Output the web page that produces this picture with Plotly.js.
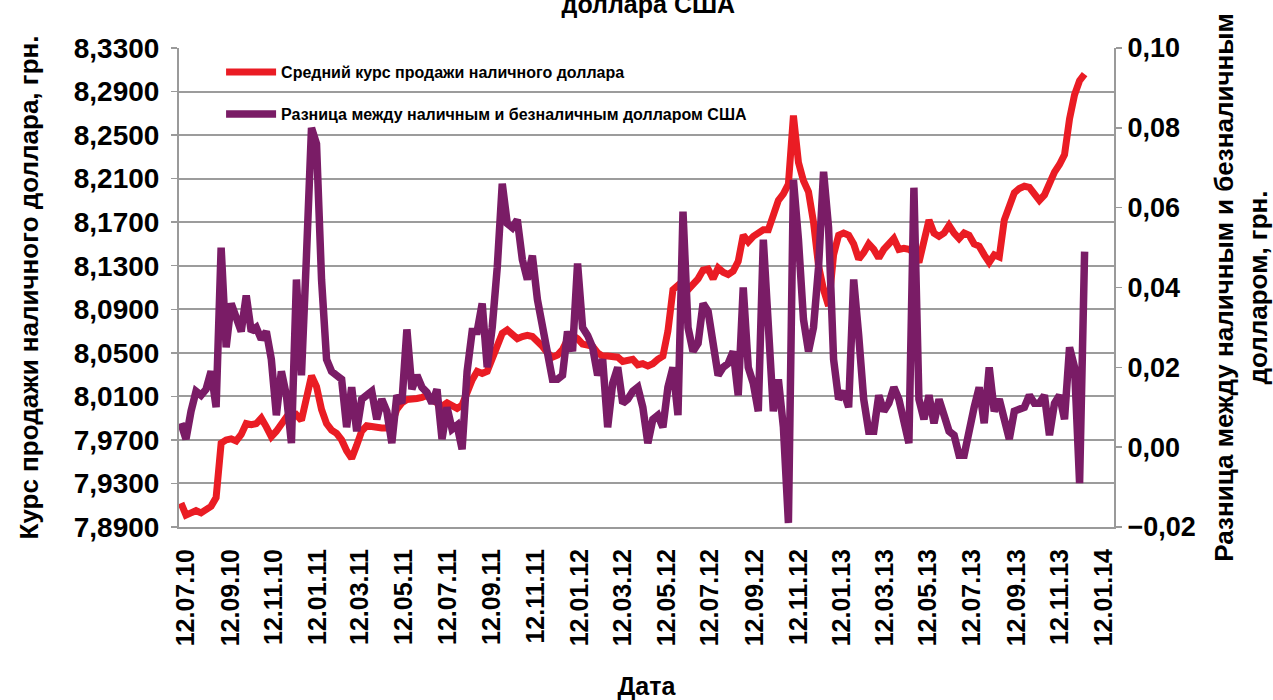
<!DOCTYPE html>
<html>
<head>
<meta charset="utf-8">
<script src="https://cdn.plot.ly/plotly-3.0.1.min.js"></script>
<style>
  html, body { margin: 0; padding: 0; background: #ffffff; }
  #chart { width: 1273px; height: 700px; }
</style>
</head>
<body>
<div id="chart"></div>
<script>
const firstWeek = '2010-07-05';
const weekCount = 181;

const cashRate = [
  7.912, 7.901, 7.903, 7.905, 7.903, 7.906, 7.909, 7.917, 7.967, 7.970,
  7.971, 7.969, 7.975, 7.985, 7.984, 7.985, 7.990, 7.982, 7.973, 7.978,
  7.985, 7.991, 7.990, 7.993, 7.988, 8.010, 8.029, 8.019, 7.998, 7.985,
  7.979, 7.976, 7.970, 7.960, 7.953, 7.965, 7.978, 7.983, 7.982, 7.982,
  7.981, 7.981, 7.985, 7.998, 8.004, 8.007, 8.007, 8.008, 8.009, 8.011,
  8.007, 8.004, 8.001, 8.004, 8.002, 7.999, 8.002, 8.014, 8.025, 8.033,
  8.031, 8.033, 8.045, 8.058, 8.068, 8.071, 8.066, 8.063, 8.065, 8.066,
  8.065, 8.061, 8.056, 8.050, 8.046, 8.048, 8.053, 8.062, 8.066, 8.063,
  8.058, 8.057, 8.056, 8.050, 8.047, 8.047, 8.047, 8.046, 8.042, 8.043,
  8.044, 8.039, 8.040, 8.038, 8.040, 8.044, 8.047, 8.070, 8.108, 8.112,
  8.108, 8.108, 8.112, 8.118, 8.126, 8.127, 8.118, 8.128, 8.124, 8.122,
  8.125, 8.134, 8.158, 8.152, 8.157, 8.160, 8.163, 8.163, 8.175, 8.190,
  8.196, 8.205, 8.268, 8.225, 8.208, 8.198, 8.170, 8.130, 8.108, 8.093,
  8.140, 8.158, 8.160, 8.158, 8.150, 8.136, 8.142, 8.150, 8.145, 8.137,
  8.145, 8.150, 8.155, 8.145, 8.146, 8.145, 8.142, 8.133, 8.155, 8.172,
  8.160, 8.157, 8.160, 8.167, 8.160, 8.155, 8.160, 8.158, 8.150, 8.148,
  8.140, 8.133, 8.140, 8.138, 8.172, 8.184, 8.197, 8.201, 8.203, 8.202,
  8.196, 8.190, 8.195, 8.206, 8.216, 8.223, 8.232, 8.265, 8.287, 8.300,
  8.306
];

const cashNonCashGap = [
  0.006, 0.002, 0.009, 0.014, 0.013, 0.0145, 0.019, 0.010, 0.050, 0.025,
  0.036, 0.032, 0.029, 0.038, 0.029, 0.030, 0.027, 0.029, 0.022, 0.008,
  0.019, 0.013, 0.001, 0.042, 0.018, 0.048, 0.080, 0.076, 0.042, 0.022,
  0.019, 0.018, 0.017, 0.005, 0.015, 0.004, 0.012, 0.013, 0.014, 0.007,
  0.012, 0.009, 0.001, 0.013, 0.011, 0.0295, 0.0145, 0.018, 0.015, 0.0137,
  0.011, 0.0145, 0.002, 0.010, 0.0045, 0.0055, -0.0005, 0.019, 0.029, 0.029,
  0.036, 0.020, 0.030, 0.045, 0.066, 0.056, 0.055, 0.057, 0.047, 0.042,
  0.048, 0.037, 0.030, 0.025, 0.017, 0.017, 0.018, 0.029, 0.024, 0.046,
  0.030, 0.028, 0.025, 0.018, 0.022, 0.005, 0.016, 0.020, 0.011, 0.012,
  0.014, 0.015, 0.010, 0.001, 0.007, 0.008, 0.005, 0.015, 0.020, 0.008,
  0.059, 0.030, 0.024, 0.026, 0.036, 0.034, 0.025, 0.018, 0.020, 0.021,
  0.024, 0.013, 0.040, 0.020, 0.016, 0.009, 0.052, 0.028, 0.009, 0.017,
  0.005, -0.019, 0.067, 0.052, 0.032, 0.024, 0.030, 0.045, 0.069, 0.055,
  0.022, 0.012, 0.014, 0.010, 0.042, 0.028, 0.012, 0.004, 0.004, 0.013,
  0.009, 0.011, 0.015, 0.012, 0.006, 0.001, 0.065, 0.012, 0.007, 0.013,
  0.006, 0.012, 0.008, 0.004, 0.003, -0.002, -0.002, 0.005, 0.010, 0.015,
  0.006, 0.020, 0.009, 0.012, 0.007, 0.002, 0.009, 0.0095, 0.010, 0.013,
  0.011, 0.011, 0.013, 0.003, 0.011, 0.013, 0.007, 0.025, 0.020, -0.009,
  0.049
];

const tickLabels = [
  '12.07.10', '12.09.10', '12.11.10', '12.01.11', '12.03.11', '12.05.11',
  '12.07.11', '12.09.11', '12.11.11', '12.01.12', '12.03.12', '12.05.12',
  '12.07.12', '12.09.12', '12.11.12', '12.01.13', '12.03.13', '12.05.13',
  '12.07.13', '12.09.13', '12.11.13', '12.01.14'
];

const leftTicks = [7.89, 7.93, 7.97, 8.01, 8.05, 8.09, 8.13, 8.17, 8.21, 8.25, 8.29, 8.33];

const seriesNames = [
  'Средний курс продажи наличного доллара',
  'Разница между наличным и безналичным долларом США'
];

// ---- build dates (category positions) ----
const dates = [];
{
  const d0 = new Date(firstWeek + 'T00:00:00Z');
  for (let i = 0; i < weekCount; i++) {
    const d = new Date(d0.getTime() + i * 7 * 86400000);
    dates.push(d.toISOString().slice(0, 10));
  }
}
const tickVals = tickLabels.map(s => {
  const [dd, mm, yy] = s.split('.');
  return '20' + yy + '-' + mm + '-' + dd;
});

const FONT = 'Liberation Sans, Arial, sans-serif';

const traces = [
  {
    x: dates, y: cashRate, type: 'scatter', mode: 'lines',
    name: seriesNames[0], legendgroup: 'a',
    line: { color: '#ea1c24', width: 7 },
    yaxis: 'y'
  },
  {
    x: dates, y: cashNonCashGap, type: 'scatter', mode: 'lines',
    name: seriesNames[1], legendgroup: 'b',
    line: { color: '#7a1c66', width: 7.5 },
    yaxis: 'y2'
  }
];

const layout = {
  width: 1273, height: 700,
  margin: { l: 179, r: 159, t: 48, b: 173, pad: 0 },
  paper_bgcolor: '#ffffff', plot_bgcolor: '#ffffff',
  separators: ', ',
  font: { family: FONT, color: '#000000' },
  title: {
    text: '<b>доллара США</b>',
    font: { family: FONT, size: 25, color: '#000000' },
    x: 0.502, xanchor: 'center', xref: 'paper',
    y: 0.994, yanchor: 'middle', yref: 'container'
  },
  showlegend: true,
  legend: {
    x: 0.045, y: 0.985, xanchor: 'left', yanchor: 'top',
    bgcolor: 'rgba(255,255,255,0)', borderwidth: 0,
    font: { family: FONT, size: 16, color: '#000000', weight: 'bold' },
    tracegroupgap: 18, itemwidth: 50
  },
  xaxis: {
    type: 'date',
    range: ['2010-07-02 06:00', '2014-01-26'],
    tickmode: 'array', tickvals: tickVals, ticktext: tickLabels,
    tickangle: -90,
    tickfont: { family: FONT, size: 25, color: '#000000', weight: 'bold' },
    showgrid: false, zeroline: false,
    showline: true, linecolor: '#9a9a9a', linewidth: 2,
    ticks: '', ticklabelstandoff: 10,
    title: {
      text: '<b>Дата</b>',
      font: { family: FONT, size: 25, color: '#000000' },
      standoff: 36
    }
  },
  yaxis: {
    range: [7.89, 8.33],
    tickmode: 'array', tickvals: leftTicks,
    tickformat: '.4f',
    tickfont: { family: FONT, size: 28, color: '#000000', weight: 'bold' },
    showgrid: true, gridcolor: '#9c9c9c', gridwidth: 2,
    zeroline: false,
    showline: true, linecolor: '#9a9a9a', linewidth: 2,
    ticks: 'outside', ticklen: 6, tickcolor: '#9a9a9a', tickwidth: 1.5,
    ticklabelstandoff: 6,
    title: {
      text: '<b>Курс продажи наличного доллара, грн.</b>',
      font: { family: FONT, size: 26, color: '#000000' },
      standoff: 28
    }
  },
  yaxis2: {
    overlaying: 'y', side: 'right',
    range: [-0.02, 0.10], dtick: 0.02, tick0: 0,
    tickformat: '.2f',
    tickfont: { family: FONT, size: 27, color: '#000000', weight: 'bold' },
    showgrid: false, zeroline: false,
    showline: true, linecolor: '#9a9a9a', linewidth: 2,
    ticks: 'outside', ticklen: 6, tickcolor: '#9a9a9a', tickwidth: 1.5,
    title: {
      text: '<b>Разница между наличным и безналичным<br>долларом, грн.</b>',
      font: { family: FONT, size: 26, color: '#000000' },
      standoff: 24
    }
  }
};

Plotly.newPlot('chart', traces, layout, { displayModeBar: false, staticPlot: true });
</script>
</body>
</html>
